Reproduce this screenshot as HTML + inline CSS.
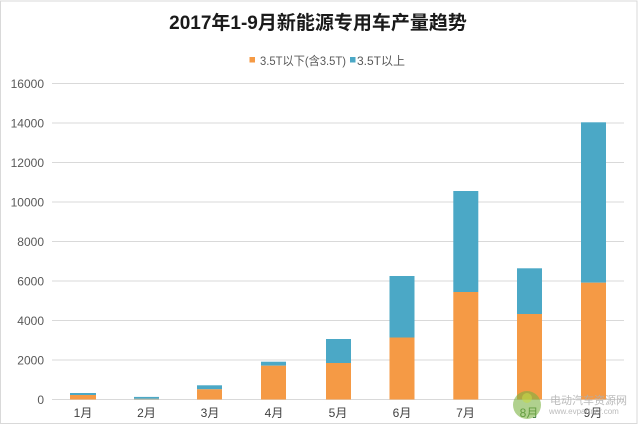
<!DOCTYPE html>
<html><head><meta charset="utf-8"><style>
html,body{margin:0;padding:0;background:#fff;}
svg{display:block;}
text{font-family:"Liberation Sans","Noto Sans CJK SC",sans-serif;}
</style></head><body>
<svg width="640" height="427" viewBox="0 0 640 427" xmlns="http://www.w3.org/2000/svg">
<rect x="0" y="0" width="640" height="427" fill="#fff"/>
<rect x="0.5" y="1" width="636.5" height="422.5" fill="none" stroke="#d9d9d9" stroke-width="1"/>
<text x="318" y="29" text-anchor="middle" font-size="19" font-weight="bold" fill="#1a1a1a">2017年1-9月新能源专用车产量趋势</text>
<rect x="249.5" y="57" width="5.5" height="5.5" fill="#F59A45"/>
<text x="260" y="65" font-size="12" fill="#595959" textLength="86" lengthAdjust="spacingAndGlyphs">3.5T以下(含3.5T)</text>
<rect x="350" y="57" width="5.5" height="5.5" fill="#4BA8C6"/>
<text x="357" y="65" font-size="12" fill="#595959" textLength="48" lengthAdjust="spacingAndGlyphs">3.5T以上</text>
<g stroke="#d9d9d9" stroke-width="1">
<line x1="52" x2="624" y1="83.5" y2="83.5"/>
<line x1="52" x2="624" y1="123" y2="123"/>
<line x1="52" x2="624" y1="162.5" y2="162.5"/>
<line x1="52" x2="624" y1="202" y2="202"/>
<line x1="52" x2="624" y1="241.5" y2="241.5"/>
<line x1="52" x2="624" y1="281" y2="281"/>
<line x1="52" x2="624" y1="320.5" y2="320.5"/>
<line x1="52" x2="624" y1="360" y2="360"/>
<line x1="52" x2="624" y1="399.5" y2="399.5"/>
</g>
<g font-size="12" fill="#595959" text-anchor="end">
<text x="44" y="88">16000</text>
<text x="44" y="127.5">14000</text>
<text x="44" y="167">12000</text>
<text x="44" y="206.5">10000</text>
<text x="44" y="246">8000</text>
<text x="44" y="285.5">6000</text>
<text x="44" y="325">4000</text>
<text x="44" y="364.5">2000</text>
<text x="44" y="404">0</text>
</g>
<g>
<rect x="70" y="393" width="26" height="2" fill="#4BA8C6"/>
<rect x="70" y="395" width="26" height="4.5" fill="#F59A45"/>
<rect x="134" y="396.9" width="25" height="1.8" fill="#4BA8C6"/>
<rect x="134" y="398.7" width="25" height="0.8" fill="#9aa38a"/>
<rect x="197" y="385.3" width="25" height="4" fill="#4BA8C6"/>
<rect x="197" y="389.3" width="25" height="10.2" fill="#F59A45"/>
<rect x="261" y="361.7" width="25" height="4" fill="#4BA8C6"/>
<rect x="261" y="365.7" width="25" height="33.8" fill="#F59A45"/>
<rect x="326" y="339" width="25" height="24" fill="#4BA8C6"/>
<rect x="326" y="363" width="25" height="36.5" fill="#F59A45"/>
<rect x="389.5" y="276" width="25" height="61.5" fill="#4BA8C6"/>
<rect x="389.5" y="337.5" width="25" height="62" fill="#F59A45"/>
<rect x="453.3" y="191" width="25" height="101" fill="#4BA8C6"/>
<rect x="453.3" y="292" width="25" height="107.5" fill="#F59A45"/>
<rect x="517" y="268.3" width="25" height="45.7" fill="#4BA8C6"/>
<rect x="517" y="314" width="25" height="85.5" fill="#F59A45"/>
<rect x="581" y="122.3" width="25" height="160.4" fill="#4BA8C6"/>
<rect x="581" y="282.7" width="25" height="116.8" fill="#F59A45"/>
</g>
<g font-size="12" fill="#404040" text-anchor="middle">
<text x="83" y="417">1月</text>
<text x="146.5" y="417">2月</text>
<text x="210" y="417">3月</text>
<text x="274" y="417">4月</text>
<text x="338" y="417">5月</text>
<text x="402" y="417">6月</text>
<text x="465.5" y="417">7月</text>
<text x="529" y="417" fill="#3d7a3a">8月</text>
<text x="593" y="417">9月</text>
</g>
<circle cx="527" cy="405" r="14" fill="#7cb342" opacity="0.6"/>
<circle cx="527" cy="398" r="5" fill="#c5d94a" opacity="0.6"/>
<text x="550" y="404" font-size="11" fill="#b0b0b0" opacity="0.85">电动汽车资源网</text>
<text x="549" y="414" font-size="8" fill="#b0b0b0" opacity="0.85">www.evpartner.com</text>
</svg>
</body></html>
